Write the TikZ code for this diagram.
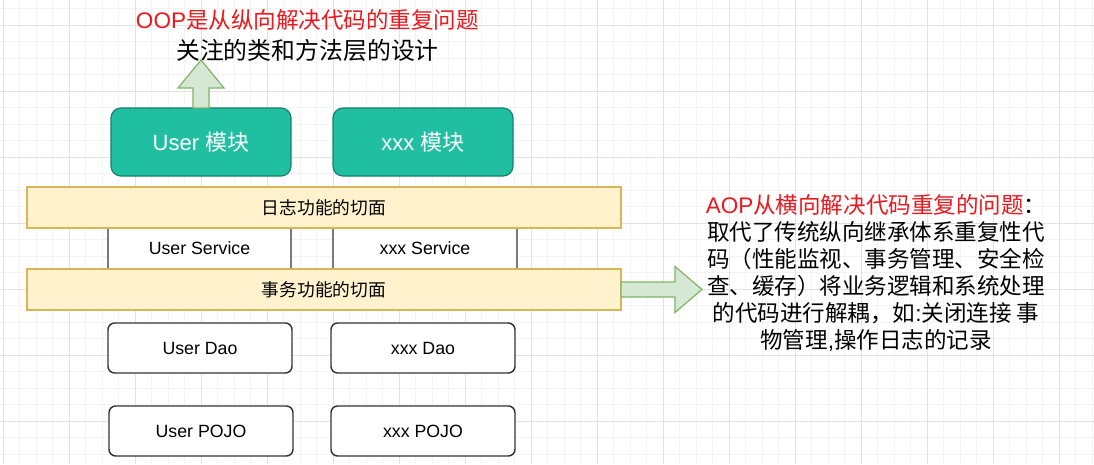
\documentclass[tikz,border=0pt]{standalone}
\usepackage{fontspec}
\setmainfont{Liberation Sans}
\newfontfamily\cjk{Noto Sans CJK SC}
\usetikzlibrary{calc}
\definecolor{tealfill}{HTML}{21BFA2}
\definecolor{tealdraw}{HTML}{13836D}
\definecolor{yfill}{HTML}{FFF2CC}
\definecolor{ydraw}{HTML}{D6B656}
\definecolor{gfill}{HTML}{D5E8D4}
\definecolor{gdraw}{HTML}{82B366}
\definecolor{redtxt}{HTML}{E8191F}
\definecolor{gminor}{HTML}{F3F3F3}
\definecolor{gmajor}{HTML}{E2E2E2}
\definecolor{boxline}{HTML}{333333}
\newcommand\ltn[1]{{\rmfamily #1}}
\tikzset{
  modbox/.style={draw=tealdraw, fill=tealfill, line width=0.9pt, rounded corners=7.5pt,
    minimum width=135pt, minimum height=51pt, inner sep=0pt, outer sep=0pt,
    text=white, font=\fontsize{16.5}{20}\selectfont},
  layerbox/.style={draw=boxline, fill=white, line width=1.1pt, rounded corners=5pt,
    minimum width=138pt, minimum height=37.5pt, inner sep=0pt, outer sep=0pt,
    font=\fontsize{13.3}{16}\selectfont},
  aspectbar/.style={draw=ydraw, fill=yfill, line width=0.9pt,
    minimum width=445.5pt, minimum height=30.75pt, inner sep=0pt, outer sep=0pt,
    font=\fontsize{13.3}{16}\selectfont\cjk},
  bigarrow/.style={draw=gdraw, fill=gfill, line width=0.9pt, line join=miter},
}
\begin{document}
\begin{tikzpicture}[x=0.75pt,y=0.75pt]
\useasboundingbox (0,0) rectangle (1094,-464);
\fill[white] (0,0) rectangle (1094,-464);
% grid
\foreach \i in {0,...,66} \draw[gminor, line width=0.75pt] ({3+16.5*\i},0) -- ({3+16.5*\i},-464);
\foreach \i in {0,...,27} \draw[gminor, line width=0.75pt] (0,{-8.5-16.5*\i}) -- (1094,{-8.5-16.5*\i});
\foreach \i in {0,...,16} \draw[gmajor, line width=0.75pt] ({3+66*\i},0) -- ({3+66*\i},-464);
\foreach \i in {0,...,6} \draw[gmajor, line width=0.75pt] (0,{-25-66*\i}) -- (1094,{-25-66*\i});

% module boxes
\node[modbox] (usermod) at (201,-142) {User {\cjk 模块}};
\node[modbox] (xxxmod) at (423,-142) {xxx {\cjk 模块}};

% service boxes (partly hidden by aspect bars)
\node[layerbox, minimum width=137.25pt, minimum height=60.75pt] (usersvc) at (199.5,-248.5) {User Service};
\node[layerbox, minimum height=60.75pt] (xxxsvc) at (425,-248.5) {xxx Service};

% aspect bars
\node[aspectbar] (logbar) at (324,-207.5) {日志功能的切面};
\node[aspectbar] (txbar) at (324,-289.5) {事务功能的切面};

% dao and pojo
\node[layerbox] (userdao) at (200,-348) {User Dao};
\node[layerbox] (xxxdao) at (423,-348) {xxx Dao};
\node[layerbox] (userpojo) at (201,-431) {User POJO};
\node[layerbox] (xxxpojo) at (423,-431) {xxx POJO};

% texts
\node[font=\fontsize{16.9}{20}\selectfont, text=redtxt, inner sep=0pt] (ooptitle) at (307.5,-20)
  {OOP{\cjk 是从纵向解决代码的重复问题}};
\node[font=\fontsize{17.9}{20}\selectfont\cjk, inner sep=0pt] (oopnote) at (307.5,-50)
  {关注的类和方法层的设计};
\node[font=\fontsize{16.9}{20.25}\selectfont\cjk, align=center, inner sep=0pt] (aopnote) at (876,-272.5)
  {\textcolor{redtxt}{\ltn{AOP}从横向解决代码重复的问题}：\\
   取代了传统纵向继承体系重复性代\\
   码（性能监视、事务管理、安全检\\
   查、缓存）将业务逻辑和系统处理\\
   的代码进行解耦，如\ltn{:}关闭连接 事\\
   物管理\ltn{,}操作日志的记录};

% up arrow (OOP)
\draw[bigarrow] ($(usermod.north)+(-8,0)$) -- ++(0,20) -- ++(-15,0)
  -- ($(usermod.north)+(0,48)$) -- ($(usermod.north)+(23,20)$) -- ++(-15,0)
  -- ($(usermod.north)+(8,0)$) -- cycle;

% right arrow (AOP)
\draw[bigarrow] ($(txbar.east)+(0,7.5)$) -- ++(54,0) -- ++(0,15.5)
  -- ($(txbar.east)+(81,0)$) -- ($(txbar.east)+(54,-23)$) -- ++(0,15.5)
  -- ($(txbar.east)+(0,-7.5)$) -- cycle;
\end{tikzpicture}
\end{document}
